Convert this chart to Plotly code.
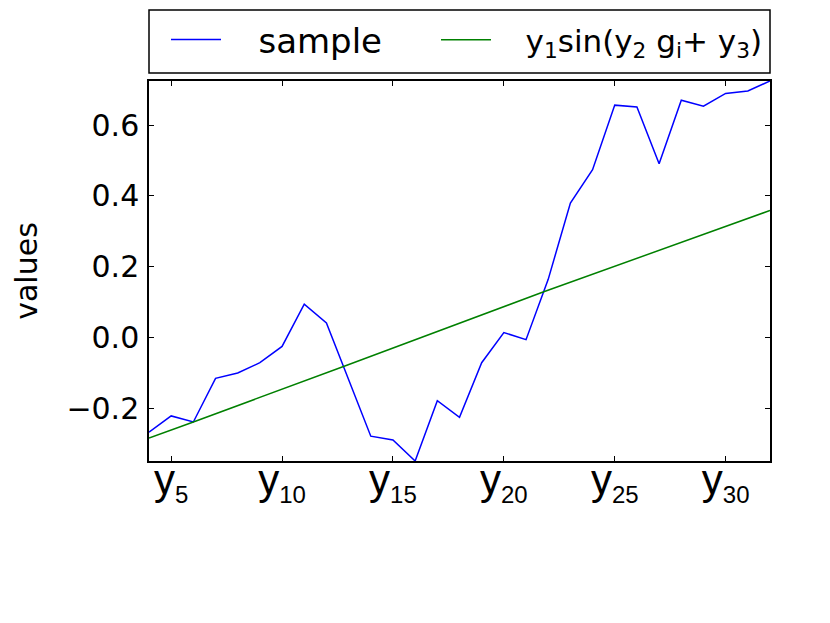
import plotly.graph_objects as go

# ---- data ----
x_index = list(range(4, 33))
sample_values = [-0.266, -0.220, -0.237, -0.114, -0.099, -0.070, -0.024, 0.095, 0.042,
                 -0.117, -0.277, -0.288, -0.347, -0.177, -0.224, -0.070, 0.015, -0.005,
                 0.165, 0.380, 0.474, 0.656, 0.651, 0.491, 0.670, 0.653, 0.689, 0.696, 0.724]
fit_x = [4, 6, 12.8, 18, 21.8, 32]
fit_values = [-0.282, -0.237, -0.080, 0.042, 0.130, 0.359]

tick_positions = [5, 10, 15, 20, 25, 30]
tick_numbers = ["5", "10", "15", "20", "25", "30"]
y_ticks = [-0.2, 0.0, 0.2, 0.4, 0.6]

series_names = ["sample", "y<sub>1</sub>sin(y<sub>2</sub> g<sub>i</sub>+ y<sub>3</sub>)"]

SUB = "<sub><span style='font-size:24px'>{}</span></sub>"
tick_labels = ["y" + SUB.format(n) for n in tick_numbers]
PAD = "\u00a0" * 3

fig = go.Figure()
fig.add_trace(go.Scatter(x=x_index, y=sample_values, mode="lines", name=PAD + series_names[0],
                         line=dict(color="#0000ff", width=1.5), legend="legend"))
fig.add_trace(go.Scatter(x=fit_x, y=fit_values, mode="lines", name=PAD + series_names[1],
                         line=dict(color="#008000", width=1.5), legend="legend2"))

L, R, T, B = 149, 60, 81, 162
W, H = 830, 623
pw = W - L - R
ph = H - T - B

def py(pix):
    return (H - B - pix) / ph

def px(pix):
    return (pix - L) / pw

legend_common = dict(orientation="h", xanchor="left", yanchor="middle",
                     bgcolor="rgba(0,0,0,0)", borderwidth=0, itemwidth=50)

fig.update_layout(
    width=W, height=H,
    margin=dict(l=L, r=R, t=T, b=B, pad=0, autoexpand=False),
    paper_bgcolor="white", plot_bgcolor="white",
    font=dict(family="DejaVu Sans", size=30, color="black"),
    showlegend=True,
    legend=dict(x=px(166), y=py(40), font=dict(family="DejaVu Sans", size=34), **legend_common),
    legend2=dict(x=px(436), y=py(40), font=dict(family="DejaVu Sans", size=31), **legend_common),
    shapes=[dict(type="rect", xref="paper", yref="paper", x0=0, x1=1,
                 y0=py(73), y1=py(10), line=dict(color="black", width=1.5))],
    xaxis=dict(range=[4, 32], tickmode="array", tickvals=tick_positions, ticktext=tick_labels,
               ticks="inside", ticklen=5, tickwidth=1, tickcolor="black",
               showline=True, linecolor="black", linewidth=1.5, mirror="ticks",
               showgrid=False, zeroline=False, ticklabelstandoff=-19,
               tickfont=dict(family="Liberation Sans", size=42)),
    yaxis=dict(range=[min(sample_values), max(sample_values)], tickmode="array", tickvals=y_ticks,
               tickformat=".1f",
               ticks="inside", ticklen=5, tickwidth=1, tickcolor="black",
               showline=True, linecolor="black", linewidth=1.5, mirror="ticks",
               showgrid=False, zeroline=False, ticklabelstandoff=2,
               tickfont=dict(family="DejaVu Sans", size=30),
               title=dict(text="values", font=dict(family="DejaVu Sans", size=30), standoff=20)),
)

fig.write_html("out.html", config={"displayModeBar": False},
               post_script="document.body.style.margin='0';")
